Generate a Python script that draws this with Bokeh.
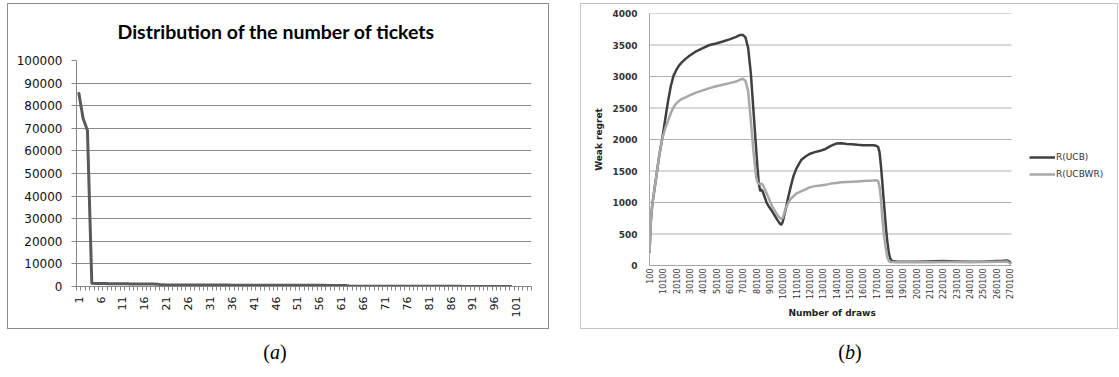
from math import pi

from bokeh.embed import file_html
from bokeh.layouts import column, row
from bokeh.models import (BasicTickFormatter, Div, FixedTicker, Legend,
                          LegendItem, Range1d, Spacer, Title)
from bokeh.plotting import figure
from bokeh.resources import INLINE

# ---------------- (a) distribution of the number of tickets ----------------
ticket_bucket = list(range(1, 101))
ticket_count = [
    86000, 74500, 69000,
    1400, 1350, 1300, 1280, 1250, 1230, 1200, 1190, 1180, 1160, 1150, 1140,
    1120, 1100, 1080, 1050,
    720, 700, 690, 680, 670, 660, 655, 650, 645, 640, 635, 630, 625, 620,
    615, 610, 605, 600, 595, 590, 585, 580, 575, 570, 565, 560, 555, 550,
    545, 540, 535, 530, 525, 520, 515, 510, 505, 500, 495, 490, 485, 480,
    470,
    150, 140, 135, 130, 125, 120, 115, 110, 105, 100, 95, 90, 88, 85, 82,
    80, 78, 75, 72, 70, 68, 65, 62, 60, 58, 56, 55, 54, 53, 52, 51, 50, 50,
    49, 48, 47, 46, 45,
]
bucket_ticks = [1, 6, 11, 16, 21, 26, 31, 36, 41, 46, 51, 56, 61, 66, 71, 76,
                81, 86, 91, 96, 101]
count_ticks = [0, 10000, 20000, 30000, 40000, 50000, 60000, 70000, 80000,
               90000, 100000]

# ---------------- (b) weak regret against the number of draws ----------------
draws = [
    100, 1100, 2100, 3100, 4100, 5100, 6100, 7100, 8100, 9100, 10100, 12100,
    14100, 16100, 18100, 20100, 22100, 24100, 27100, 30100, 35100, 40100,
    45100, 50100, 55100, 60100, 65100, 68100, 70100, 72100, 74100, 76100,
    78100, 80100, 81100, 82100, 83100, 84100, 85100, 86100, 88100, 90100,
    92100, 94100, 96100, 98100, 99100, 100100, 102100, 104100, 106100,
    108100, 110100, 112100, 114100, 117100, 120100, 124100, 128100, 132100,
    136100, 140100, 144100, 148100, 152100, 156100, 160100, 164100, 168100,
    170100, 171600, 172600, 173600, 174600, 175600, 176600, 177600, 178600,
    179600, 180600, 182100, 186100, 190100, 200100, 210100, 220100, 230100,
    240100, 250100, 260100, 265100, 268100, 270100, 271100,
]
regret_ucb = [
    200, 700, 950, 1100, 1250, 1400, 1550, 1700, 1830, 1950, 2070, 2350,
    2620, 2850, 3010, 3100, 3170, 3220, 3280, 3330, 3400, 3450,
    3500, 3525, 3555, 3590, 3630, 3660, 3660, 3620, 3450, 3050,
    2450, 1850, 1550, 1300, 1190, 1200, 1170, 1110, 990, 920,
    860, 790, 720, 660, 650, 700, 880, 1080, 1260,
    1420, 1530, 1610, 1680, 1730, 1770, 1800, 1820, 1850,
    1900, 1935, 1940, 1930, 1925, 1915, 1910, 1910, 1910,
    1900, 1880, 1800, 1600, 1350, 1080, 820, 560, 360,
    200, 110, 70, 60, 60, 60, 65, 70, 65,
    60, 60, 70, 75, 80, 60, 30,
]
regret_ucbwr = [
    200, 700, 950, 1100, 1250, 1400, 1550, 1700, 1830, 1950, 2040, 2190,
    2300, 2420, 2510, 2570, 2610, 2640, 2670, 2700, 2745, 2780,
    2815, 2845, 2870, 2895, 2920, 2950, 2965, 2930, 2760, 2300,
    1800, 1400, 1320, 1300, 1290, 1300, 1280, 1230, 1140, 1040,
    940, 870, 800, 750, 740, 760, 900, 990, 1060,
    1100, 1140, 1160, 1180, 1210, 1240, 1260, 1270, 1280,
    1300, 1310, 1320, 1325, 1330, 1335, 1340, 1345, 1350,
    1355, 1340, 1250, 1080, 780, 550, 380, 230, 120,
    70, 55, 55, 50, 50, 50, 50, 55, 55,
    50, 55, 60, 60, 65, 40, 20,
]
draw_ticks = [100 + 10000 * k for k in range(28)]
regret_ticks = [0, 500, 1000, 1500, 2000, 2500, 3000, 3500, 4000]
draw_axis_start, draw_axis_end = 100, 271600

AXIS_FONT = "DejaVu Sans"

# ---------------- panel (a) ----------------
pa = figure(width=540, height=324, output_backend="svg", toolbar_location=None,
            x_range=Range1d(0.5, 104.5), y_range=Range1d(0, 100000),
            min_border_left=68, min_border_right=17,
            min_border_top=55, min_border_bottom=42)
pa.outline_line_color = None
pa.background_fill_color = "white"
pa.border_fill_color = "white"

pa.title.text = "Distribution of the number of tickets"
pa.title.align = "left"
pa.title.offset = 41
pa.title.text_font = "Lato"
pa.title.text_font_style = "bold"
pa.title.text_font_size = "19.5px"
pa.title.text_color = "#000000"
pa.title.vertical_align = "top"
pa.title.standoff = 31

count_ticker = FixedTicker(ticks=count_ticks)
pa.yaxis.ticker = count_ticker
pa.ygrid.ticker = count_ticker
pa.yaxis.formatter = BasicTickFormatter(use_scientific=False)
pa.yaxis.axis_line_color = "#868686"
pa.yaxis.major_tick_line_color = "#868686"
pa.yaxis.major_tick_out = 5
pa.yaxis.major_tick_in = 0
pa.yaxis.minor_tick_line_color = None
pa.yaxis.major_label_standoff = 9
pa.yaxis.major_label_text_font = AXIS_FONT
pa.yaxis.major_label_text_font_size = "12px"
pa.yaxis.major_label_text_color = "#111111"

pa.xaxis.ticker = FixedTicker(ticks=bucket_ticks,
                              minor_ticks=[i + 0.5 for i in range(105)])
pa.xaxis.axis_line_color = "#868686"
pa.xaxis.major_tick_line_color = None
pa.xaxis.major_tick_out = 0
pa.xaxis.major_tick_in = 0
pa.xaxis.minor_tick_line_color = "#868686"
pa.xaxis.minor_tick_out = 4
pa.xaxis.minor_tick_in = 0
pa.xaxis.major_label_orientation = pi / 2
pa.xaxis.major_label_standoff = 6
pa.xaxis.major_label_text_font = AXIS_FONT
pa.xaxis.major_label_text_font_size = "11px"
pa.xaxis.major_label_text_color = "#111111"

pa.xgrid.grid_line_color = None
pa.ygrid.grid_line_color = "#8c8c8c"
pa.ygrid.grid_line_width = 1

pa.line(ticket_bucket, ticket_count, line_color="#5a5a5a", line_width=3,
        line_join="round")

# ---------------- panel (b) ----------------
# the plotting area runs on past the last draw so that the legend fits inside it
pb_frame_width = 468
pb = figure(width=536, height=324, output_backend="svg", toolbar_location=None,
            x_range=Range1d(draw_axis_start,
                            draw_axis_start + pb_frame_width * 750),
            y_range=Range1d(0, 4000),
            min_border_left=68, min_border_right=0,
            min_border_top=9, min_border_bottom=63)
pb.outline_line_color = None
pb.background_fill_color = "white"
pb.border_fill_color = "white"

regret_ticker = FixedTicker(ticks=regret_ticks)
pb.yaxis.ticker = regret_ticker
pb.yaxis.formatter = BasicTickFormatter(use_scientific=False)
pb.yaxis.axis_line_color = "#a6a6a6"
pb.yaxis.major_tick_line_color = None
pb.yaxis.major_tick_out = 0
pb.yaxis.minor_tick_line_color = None
pb.yaxis.major_label_standoff = 12
pb.yaxis.major_label_text_font = AXIS_FONT
pb.yaxis.major_label_text_font_style = "bold"
pb.yaxis.major_label_text_font_size = "9px"
pb.yaxis.major_label_text_color = "#333333"
pb.yaxis.axis_label = "Weak regret"
pb.yaxis.axis_label_standoff = 5
pb.yaxis.axis_label_text_font = AXIS_FONT
pb.yaxis.axis_label_text_font_style = "bold"
pb.yaxis.axis_label_text_font_size = "9px"
pb.yaxis.axis_label_text_color = "#222222"

pb.xaxis.ticker = FixedTicker(ticks=draw_ticks, minor_ticks=[])
pb.xaxis.bounds = (draw_axis_start, draw_axis_end)
pb.xaxis.formatter = BasicTickFormatter(use_scientific=False)
pb.xaxis.axis_line_color = "#a6a6a6"
pb.xaxis.major_tick_line_color = None
pb.xaxis.major_tick_out = 0
pb.xaxis.minor_tick_line_color = None
pb.xaxis.major_label_orientation = pi / 2
pb.xaxis.major_label_standoff = 3
pb.xaxis.major_label_text_font = AXIS_FONT
pb.xaxis.major_label_text_font_size = "8px"
pb.xaxis.major_label_text_color = "#333333"

# x-axis caption, centred under the span of the draws
pb.add_layout(Title(text="Number of draws", align="left", offset=139,
                    text_font=AXIS_FONT, text_font_style="bold",
                    text_font_size="9px", text_color="#222222",
                    vertical_align="top", standoff=10), "below")

pb.xgrid.grid_line_color = None
pb.ygrid.grid_line_color = None

# horizontal grid lines only across the span of the draws
pb.segment(x0=[draw_axis_start] * len(regret_ticks), y0=regret_ticks,
           x1=[draw_axis_end] * len(regret_ticks), y1=regret_ticks,
           line_color="#b0b0b0", line_width=1)

r_ucb = pb.line(draws, regret_ucb, line_color="#404040", line_width=2.5,
                line_join="round")
r_ucbwr = pb.line(draws, regret_ucbwr, line_color="#a8a8a8", line_width=2.5,
                  line_join="round")

legend = Legend(items=[LegendItem(label="R(UCB)", renderers=[r_ucb]),
                       LegendItem(label="R(UCBWR)", renderers=[r_ucbwr])],
                location=(380, 83), orientation="vertical",
                border_line_color=None, background_fill_alpha=0,
                padding=0, margin=0, spacing=1,
                glyph_width=26, glyph_height=16, label_height=16,
                label_standoff=1, label_text_font=AXIS_FONT,
                label_text_font_size="9px", label_text_color="#333333")
pb.add_layout(legend)

# ---------------- page ----------------
box_a = column(pa, styles={"border": "1px solid #8c8c8c"})
box_b = column(pb, styles={"border": "1px solid #c4c4c4"})

caption_style = {"text-align": "center", "font-family": "Liberation Serif",
                 "font-size": "20px", "line-height": "24px", "color": "#000"}
cap_a = Div(text="(<i>a</i>)", width=540, height=30, styles=caption_style)
cap_b = Div(text="(<i>b</i>)", width=590, height=30, styles=caption_style)

page = column(
    Spacer(height=3),
    row(Spacer(width=7), box_a, Spacer(width=31), box_b),
    Spacer(height=6),
    row(cap_a, cap_b),
)

with open("out.html", "w") as fh:
    fh.write(file_html(page, INLINE))
